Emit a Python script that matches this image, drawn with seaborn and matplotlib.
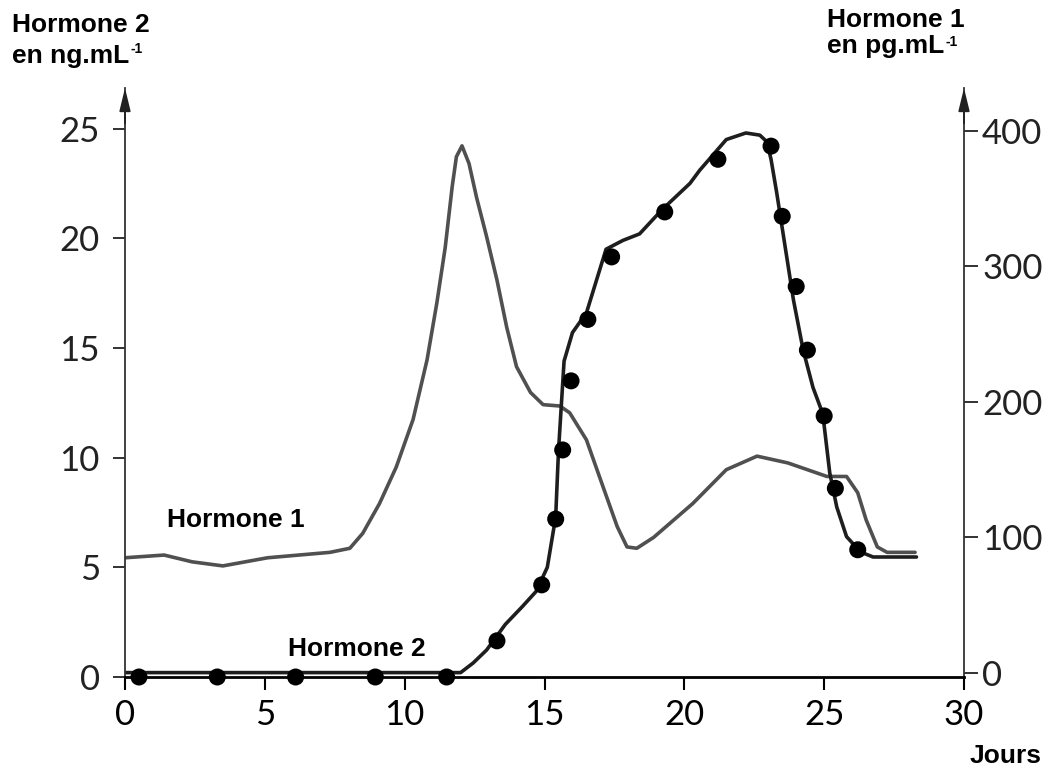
import matplotlib
matplotlib.use("Agg")
import matplotlib.pyplot as plt
import seaborn as sns
import pandas as pd

# Hormone 1 (grey curve, right axis, pg/mL)
h1_days = [0, 1.4, 2.4, 3.5, 5.1, 7.33, 8.04, 8.5, 9.1, 9.7, 10.3, 10.8, 11.15, 11.45, 11.7,
           11.85, 12.05, 12.3, 12.57, 12.93, 13.3, 13.65, 14.0, 14.5, 14.95, 15.55, 15.9,
           16.5, 17.1, 17.6, 17.95, 18.3, 18.9, 20.3, 21.5, 22.6, 23.7, 25.1, 25.8, 26.2,
           26.5, 26.9, 27.25, 28.25]
h1_values = [85, 87, 82, 79, 85, 89, 92, 103, 125, 152, 187, 231, 273, 314, 359,
             381, 389, 376, 351, 322, 290, 255, 226, 207, 198, 197, 192,
             172, 137, 108, 93, 92, 100, 125, 150, 160, 155, 145, 145, 133,
             113, 93, 89, 89]

# Hormone 2 (black curve, left axis, ng/mL)
h2_days = [0, 6, 11.3, 12.0, 12.45, 12.93, 13.6, 14.2, 14.7, 15.1, 15.4, 15.5, 15.7, 16.0,
           16.5, 17.2, 17.8, 18.4, 19.2, 20.2, 20.55, 21.5, 22.2, 22.7, 22.95, 23.1, 23.3,
           23.9, 24.25, 24.6, 24.95, 25.2, 25.45, 25.8, 26.3, 26.75, 28.3]
h2_values = [0.2, 0.2, 0.2, 0.2, 0.64, 1.23, 2.4, 3.2, 3.9, 5.0, 7.3, 10.3, 14.4, 15.7,
             16.6, 19.5, 19.9, 20.2, 21.3, 22.5, 23.1, 24.5, 24.8, 24.7, 24.4, 23.6, 22.1,
             17.2, 14.9, 13.2, 12.0, 9.3, 7.75, 6.4, 5.7, 5.47, 5.47]

# measured points on hormone 2
dot_days = [0.5, 3.3, 6.1, 8.95, 11.5, 13.3, 14.9, 15.4, 15.65, 15.95, 16.55, 17.4, 19.3,
            21.2, 23.1, 23.5, 24.0, 24.4, 25.0, 25.4, 26.2]
dot_values = [0, 0, 0, 0, 0, 1.65, 4.2, 7.2, 10.35, 13.5, 16.3, 19.15, 21.2,
              23.6, 24.2, 21.0, 17.8, 14.9, 11.9, 8.6, 5.8]

x_ticks = [0, 5, 10, 15, 20, 25, 30]
left_ticks = [0, 5, 10, 15, 20, 25]
right_ticks = [0, 100, 200, 300, 400]

h1 = pd.DataFrame({"jour": h1_days, "val": h1_values})
h2 = pd.DataFrame({"jour": h2_days, "val": h2_values})
dots = pd.DataFrame({"jour": dot_days, "val": dot_values})

sns.set_style("white")
plt.rcParams["font.family"] = ["Lato", "DejaVu Sans"]

W, H = 1050, 769
fig = plt.figure(figsize=(W / 100, H / 100), dpi=100)
ax = fig.add_axes([125 / W, 1 - 677 / H, (964 - 125) / W, (677 - 88) / H])
ax2 = ax.twinx()

sns.lineplot(data=h2, x="jour", y="val", ax=ax, color="#1e1e1e", linewidth=2.6,
             estimator=None, sort=False)
sns.scatterplot(data=dots, x="jour", y="val", ax=ax, color="black", s=150,
                edgecolor="none", zorder=5, clip_on=False)
sns.lineplot(data=h1, x="jour", y="val", ax=ax2, color="#505050", linewidth=2.6,
             estimator=None, sort=False)

ax.set_xlim(0, 30)
ax.set_ylim(0, 26.85)
ax2.set_ylim(-3, 431.7)
ax.set_xticks(x_ticks)
ax.set_yticks(left_ticks)
ax2.set_yticks(right_ticks)
ax.set_xlabel("")
ax.set_ylabel("")
ax2.set_ylabel("")

for a in (ax, ax2):
    a.spines["top"].set_visible(False)
    a.grid(False)
ax.spines["left"].set_color("#333333")
ax.spines["left"].set_linewidth(1.3)
ax.spines["right"].set_visible(False)
ax2.spines["right"].set_color("#333333")
ax2.spines["right"].set_linewidth(1.3)
ax.spines["bottom"].set_color("black")
ax.spines["bottom"].set_linewidth(2)
ax2.spines["left"].set_visible(False)
ax2.spines["bottom"].set_visible(False)

ax.tick_params(axis="x", direction="out", length=9, width=1.5, labelsize=25, pad=7,
               bottom=True, colors="black")
ax.tick_params(axis="y", direction="out", length=9, width=1.3, labelsize=25, pad=9,
               left=True, colors="#222222")
ax2.tick_params(axis="y", direction="out", length=10, width=1.3, labelsize=25, pad=3,
                right=True, colors="#222222")
ax.set_zorder(ax2.get_zorder() + 1)
ax.patch.set_visible(False)

# arrows at the top of the vertical axes
arrow = dict(arrowstyle="-|>,head_length=0.7,head_width=0.17", color="#222222", lw=1.3,
             mutation_scale=20, shrinkA=0, shrinkB=0)
for xa in (0, 1):
    ax.annotate("", xy=(xa, 1.0), xytext=(xa, 0.94), xycoords="axes fraction",
                textcoords="axes fraction", arrowprops=arrow, annotation_clip=False)

bold = dict(fontsize=19, fontweight="bold", family="Liberation Sans", color="black",
            va="baseline", ha="left")
sup = dict(fontsize=10, fontweight="bold", family="Liberation Sans", color="black",
           va="baseline", ha="left")


def px(x, y):
    return x / W, 1 - y / H


fig.text(*px(12, 32), "Hormone 2", **bold)
t_left = fig.text(*px(12, 63), "en ng.mL", **bold)
fig.text(*px(827, 27), "Hormone 1", **bold)
t_right = fig.text(*px(827, 53), "en pg.mL", **bold)

renderer = fig.canvas.get_renderer()
for t, base in ((t_left, 53), (t_right, 46)):
    bb = t.get_window_extent(renderer)
    fig.text((bb.x1 + 1) / W, 1 - base / H, "-1", **sup)

fig.text(*px(167, 527), "Hormone 1", **bold)
fig.text(*px(288, 656), "Hormone 2", **bold)
fig.text(*px(970, 763), "Jours", **bold)

fig.savefig("out.png", dpi=100)
